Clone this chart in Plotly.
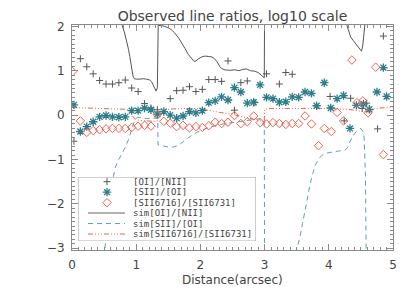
import plotly.graph_objects as go

# ---------------- observed ratios ----------------
oi_nii_x = [0.03, 0.13, 0.23, 0.33, 0.43, 0.53, 0.63, 0.73, 0.83, 0.93, 1.03, 1.13, 1.23, 1.33,
            1.53, 1.63, 1.73, 1.83, 1.93, 2.03, 2.13, 2.23, 2.33, 2.43, 2.53, 2.63, 2.73, 2.85,
            3.03, 3.23, 3.33, 3.43, 4.02, 4.24, 4.34, 4.52, 4.59, 4.64, 4.76, 4.85]
oi_nii_y = [-0.59, 1.27, 1.09, 0.93, 0.78, 0.70, 0.70, 0.73, 0.79, 0.61, 0.53, 0.26, 0.16, 0.12,
            0.37, 0.55, 0.56, 0.64, 0.53, 0.58, 0.80, 0.80, 0.76, 1.22, 0.11, 0.73, 0.77, 0.28,
            0.93, 0.70, 0.96, 0.92, 0.42, -0.13, 0.38, 0.15, 0.27, 0.12, -0.31, 1.78]

sii_oi_x = [0.03, 0.13, 0.23, 0.33, 0.43, 0.53, 0.63, 0.73, 0.83, 0.93, 1.03, 1.13, 1.23, 1.33,
            1.43, 1.53, 1.63, 1.73, 1.83, 1.93, 2.03, 2.13, 2.23, 2.33, 2.43, 2.53, 2.63, 2.73,
            2.83, 2.93, 3.03, 3.13, 3.23, 3.33, 3.43, 3.53, 3.63, 3.73, 3.81, 3.93, 4.03, 4.13,
            4.23, 4.33, 4.43, 4.54, 4.63, 4.75, 4.85, 4.90]
sii_oi_y = [0.23, -0.37, -0.26, -0.15, -0.04, -0.01, -0.04, -0.05, -0.04, 0.10, 0.10, 0.16, 0.12, 0.02,
            0.08, 0.00, -0.07, -0.02, 0.08, 0.05, 0.10, 0.28, 0.32, 0.41, 0.34, 0.62, 0.52, 0.27,
            0.29, 0.68, 0.40, 0.37, 0.29, 0.30, 0.41, 0.40, 0.52, 0.49, 0.21, 0.73, 0.16, 0.37,
            0.44, -0.30, 0.22, 0.25, 0.13, 0.52, 1.07, 0.42]

sii_ratio_x = [0.01, 0.13, 0.23, 0.33, 0.43, 0.53, 0.63, 0.73, 0.83, 0.93, 1.03, 1.13, 1.23, 1.33,
               1.43, 1.53, 1.63, 1.73, 1.83, 1.93, 2.03, 2.13, 2.23, 2.33, 2.43, 2.53, 2.63, 2.73,
               2.83, 2.93, 3.03, 3.13, 3.23, 3.33, 3.43, 3.53, 3.63, 3.73, 3.84, 3.93, 4.04, 4.13,
               4.23, 4.36, 4.44, 4.53, 4.61, 4.73, 4.85]
sii_ratio_y = [0.98, -0.13, -0.39, -0.35, -0.33, -0.31, -0.30, -0.30, -0.30, -0.28, -0.25, -0.23, -0.25, 0.01,
               -0.14, -0.18, -0.26, -0.23, -0.29, -0.26, -0.28, -0.24, -0.16, -0.19, -0.16, -0.01, -0.19, -0.15,
               -0.02, -0.17, -0.20, -0.17, -0.19, -0.21, -0.19, -0.19, -0.02, -0.20, -0.69, -0.30, -0.37, 0.06,
               -0.13, 1.24, 0.28, 0.32, 0.05, 1.08, -0.89]

# ---------------- simulated ratios ----------------
sim_oi_nii_x = [0.70, 0.78, 0.82, 0.85, 0.88, 0.90, 0.93, 0.95, 0.97, 1.00, 1.06, 1.11, 1.16, 1.21,
                1.24, 1.27, 1.30, 1.31, 1.33, 1.345, 1.35, 1.42, 1.50, 1.55, 1.60, 1.66, 1.71, 1.76,
                1.81, 1.86, 1.90, 1.93, 1.97, 2.02, 2.07, 2.13, 2.18, 2.22, 2.26, 2.30, 2.33, 2.38,
                2.46, 2.54, 2.60, 2.66, 2.72, 2.78, 2.84, 2.90, 2.95, 2.98, 2.995, 3.00, 3.50, 4.27,
                4.29, 4.31, 4.34, 4.38, 4.42, 4.46, 4.49, 4.51, 4.53, 4.55, 4.56, 4.60, 5.00]
sim_oi_nii_y = [2.60, 2.02, 1.85, 1.68, 1.48, 1.32, 1.08, 0.88, 0.82, 0.81, 0.81, 0.82, 0.81, 0.79,
                0.75, 0.67, 0.57, 0.54, 0.62, 2.30, 2.02, 2.01, 1.97, 1.92, 1.85, 1.74, 1.63, 1.50,
                1.37, 1.27, 1.21, 1.22, 1.27, 1.31, 1.33, 1.32, 1.31, 1.27, 1.20, 1.10, 1.05, 1.02,
                1.01, 1.02, 1.00, 1.03, 1.04, 1.00, 0.99, 0.96, 0.90, 0.86, 0.84, 2.60, 2.60, 2.08,
                1.98, 1.85, 1.76, 1.68, 1.60, 1.54, 1.47, 1.44, 1.58, 1.90, 2.05, 2.60, 2.60]

sim_sii_oi_x = [0.00, 0.49, 0.51, 0.53, 0.56, 0.59, 0.63, 0.67, 0.71, 0.75, 0.80, 0.84, 0.88, 0.92,
                0.95, 0.98, 1.02, 1.08, 1.16, 1.24, 1.30, 1.335, 1.34, 1.42, 1.50, 1.58, 1.66, 1.73,
                1.80, 1.87, 1.93, 2.00, 2.07, 2.15, 2.25, 2.35, 2.45, 2.55, 2.65, 2.75, 2.85, 2.93,
                2.97, 2.995, 3.00, 3.30, 3.45, 3.50, 3.55, 3.59, 3.63, 3.67, 3.71, 3.75, 3.79, 3.84,
                3.89, 3.95, 4.05, 4.15, 4.25, 4.29, 4.33, 4.37, 4.42, 4.47, 4.50, 4.53, 4.55, 4.56,
                4.57, 4.585, 5.00]
sim_sii_oi_y = [-3.60, -3.50, -3.04, -2.75, -2.35, -1.90, -1.50, -1.20, -1.05, -0.95, -0.83, -0.70, -0.55, -0.37,
                -0.22, -0.10, -0.05, -0.06, -0.08, -0.07, -0.06, -0.07, -0.67, -0.70, -0.72, -0.72, -0.68, -0.60,
                -0.52, -0.45, -0.40, -0.35, -0.31, -0.27, -0.23, -0.20, -0.18, -0.16, -0.14, -0.12, -0.10, -0.08,
                -0.10, -0.15, -3.60, -3.60, -3.30, -3.04, -2.75, -2.45, -2.12, -1.80, -1.55, -1.32, -1.13, -0.99,
                -0.91, -0.86, -0.83, -0.81, -0.79, -0.74, -0.60, -0.48, -0.38, -0.31, -0.30, -0.36, -0.50, -0.80,
                -1.30, -3.60, -3.60]

sim_sii_ratio_x = [0.00, 0.30, 0.60, 0.85, 0.90, 0.93, 0.96, 1.00, 1.06, 1.16, 1.26, 1.335, 1.34, 1.40,
                   1.48, 1.58, 1.70, 1.85, 2.00, 2.10, 2.20, 2.30, 2.40, 2.50, 2.60, 2.70, 2.80, 2.90,
                   2.97, 2.995, 3.00, 3.10, 3.50, 4.00, 4.30, 4.40, 4.50, 4.58, 4.63, 4.68, 4.80, 5.00]
sim_sii_ratio_y = [0.17, 0.16, 0.15, 0.13, 0.10, 0.02, -0.06, -0.10, -0.12, -0.13, -0.14, -0.13, 0.03, 0.08,
                   0.12, 0.14, 0.15, 0.15, 0.14, 0.12, 0.09, 0.06, 0.04, 0.02, -0.02, -0.05, -0.08, -0.11,
                   -0.14, -0.16, 0.13, 0.15, 0.15, 0.15, 0.13, 0.11, 0.09, 0.07, 0.08, 0.14, 0.16, 0.17]

x_ticks = [0, 1, 2, 3, 4, 5]
y_ticks = [-3, -2, -1, 0, 1, 2]

legend_labels = ["[OI]/[NII]", "[SII]/[OI]", "[SII6716]/[SII6731]",
                 "sim[OI]/[NII]", "sim[SII]/[OI]", "sim[SII6716]/[SII6731]"]

# ---------------- styles ----------------
FONT = "DejaVu Sans"
LEG_FONT = "DejaVu Sans Mono"
TXT = "#444444"
AX = "#8a8a8a"
C_GRAY = "#555555"
C_TEAL = "#2c7d89"
C_TEAL_LINE = "#5aa2ad"
C_RED = "#f0604f"
RED_DASH = "5px,2px,1px,2px,1px,2px,1px,2px"
TEAL_DASH = "5px,4px"

MK_PLUS = dict(symbol="cross-thin", size=5, color=C_GRAY, line=dict(color=C_GRAY, width=1))
MK_STAR = dict(symbol="asterisk-open", size=7, color=C_TEAL, line=dict(color=C_TEAL, width=1.3))
MK_DIAM = dict(symbol="diamond-open", size=6.5, color=C_RED, line=dict(color=C_RED, width=1))

fig = go.Figure()

fig.add_trace(go.Scatter(x=sim_oi_nii_x, y=sim_oi_nii_y, mode="lines",
                         line=dict(color=C_GRAY, width=1), showlegend=False, hoverinfo="skip"))
fig.add_trace(go.Scatter(x=sim_sii_oi_x, y=sim_sii_oi_y, mode="lines",
                         line=dict(color=C_TEAL_LINE, width=1, dash=TEAL_DASH), showlegend=False, hoverinfo="skip"))
fig.add_trace(go.Scatter(x=sim_sii_ratio_x, y=sim_sii_ratio_y, mode="lines",
                         line=dict(color=C_RED, width=1, dash=RED_DASH), showlegend=False, hoverinfo="skip"))

fig.add_trace(go.Scatter(x=oi_nii_x, y=oi_nii_y, mode="markers", showlegend=False, marker=MK_PLUS))
fig.add_trace(go.Scatter(x=sii_oi_x, y=sii_oi_y, mode="markers", showlegend=False, marker=MK_STAR))
fig.add_trace(go.Scatter(x=sii_ratio_x, y=sii_ratio_y, mode="markers", showlegend=False, marker=MK_DIAM))

# ---------------- geometry ----------------
# The page body adds an 8px offset, so the figure is made 8px smaller and margins are shifted.
OFF = 8
W, H = 415 - OFF, 297 - OFF
PL, PT, PR, PB = 72, 22, 393, 250            # plot area in page pixels
ML, MT = PL - OFF, PT - OFF
MR, MB = (W + OFF) - PR, (H + OFF) - PB
PW, PH = PR - PL, PB - PT

# ---------------- custom legend (overlay axis in page-pixel units) ----------------
LX0, LX1, LY0, LY1 = 78, 256, 176, 241
rows = [180.8, 191.4, 202.0, 212.6, 223.2, 233.8]
sym_x, line_x0, line_x1, text_x = 107, 88, 125, 131.5

marker_styles = [MK_PLUS, MK_STAR, MK_DIAM]
line_styles = [
    dict(color="#9a9a9a", width=1.5),
    dict(color=C_TEAL_LINE, width=1, dash=TEAL_DASH),
    dict(color=C_RED, width=1, dash=RED_DASH),
]
for i, ms in enumerate(marker_styles):
    fig.add_trace(go.Scatter(x=[sym_x], y=[rows[i]], mode="markers", marker=ms,
                             xaxis="x2", yaxis="y2", showlegend=False, hoverinfo="skip"))
for i, ls in enumerate(line_styles):
    fig.add_trace(go.Scatter(x=[line_x0, line_x1], y=[rows[3 + i]] * 2, mode="lines", line=ls,
                             xaxis="x2", yaxis="y2", showlegend=False, hoverinfo="skip"))

annotations = []
for i, lab in enumerate(legend_labels):
    annotations.append(dict(x=text_x, y=rows[i], xref="x2", yref="y2", text=lab, showarrow=False,
                            xanchor="left", yanchor="middle", borderpad=0,
                            font=dict(family=LEG_FONT, size=9, color=TXT)))
annotations.append(dict(x=0.5, y=(PB - 280) / PH, xref="paper", yref="paper",
                        text="Distance(arcsec)", showarrow=False, xanchor="center", yanchor="middle",
                        font=dict(family=FONT, size=12, color=TXT)))

axis_common = dict(showgrid=False, zeroline=False, showline=True, linecolor=AX, linewidth=1,
                   mirror="allticks", ticks="inside", ticklen=6, tickcolor=AX, tickwidth=1,
                   tickfont=dict(family=FONT, size=12, color=TXT),
                   minor=dict(ticks="inside", dtick=0.1, ticklen=3, tickcolor=AX, tickwidth=1, showgrid=False))

fig.update_layout(
    width=W, height=H,
    margin=dict(l=ML, r=MR, t=MT, b=MB, pad=0),
    paper_bgcolor="white", plot_bgcolor="white",
    font=dict(family=FONT, color=TXT),
    title=dict(text="Observed line ratios, log10 scale", x=0.5, xref="paper", xanchor="center",
               y=1 - 8.2 / H, yref="container", yanchor="middle",
               font=dict(family=FONT, size=14, color=TXT)),
    xaxis=dict(range=[0, 5], tickvals=x_ticks, ticklabelstandoff=4, **axis_common),
    yaxis=dict(range=[-3.04, 2.03], tickvals=y_ticks, ticklabelstandoff=4, **axis_common),
    xaxis2=dict(domain=[(LX0 - PL) / PW, (LX1 - PL) / PW], range=[LX0, LX1], anchor="y2",
                visible=False, fixedrange=True),
    yaxis2=dict(domain=[(PB - LY1) / PH, (PB - LY0) / PH], range=[LY1, LY0], anchor="x2",
                visible=False, fixedrange=True),
    shapes=[dict(type="rect", xref="x2", yref="y2", x0=LX0, x1=LX1, y0=LY0, y1=LY1,
                 line=dict(color="#999999", width=1), fillcolor="rgba(0,0,0,0)", layer="above")],
    annotations=annotations,
    showlegend=False,
)

fig.write_html("out.html")
